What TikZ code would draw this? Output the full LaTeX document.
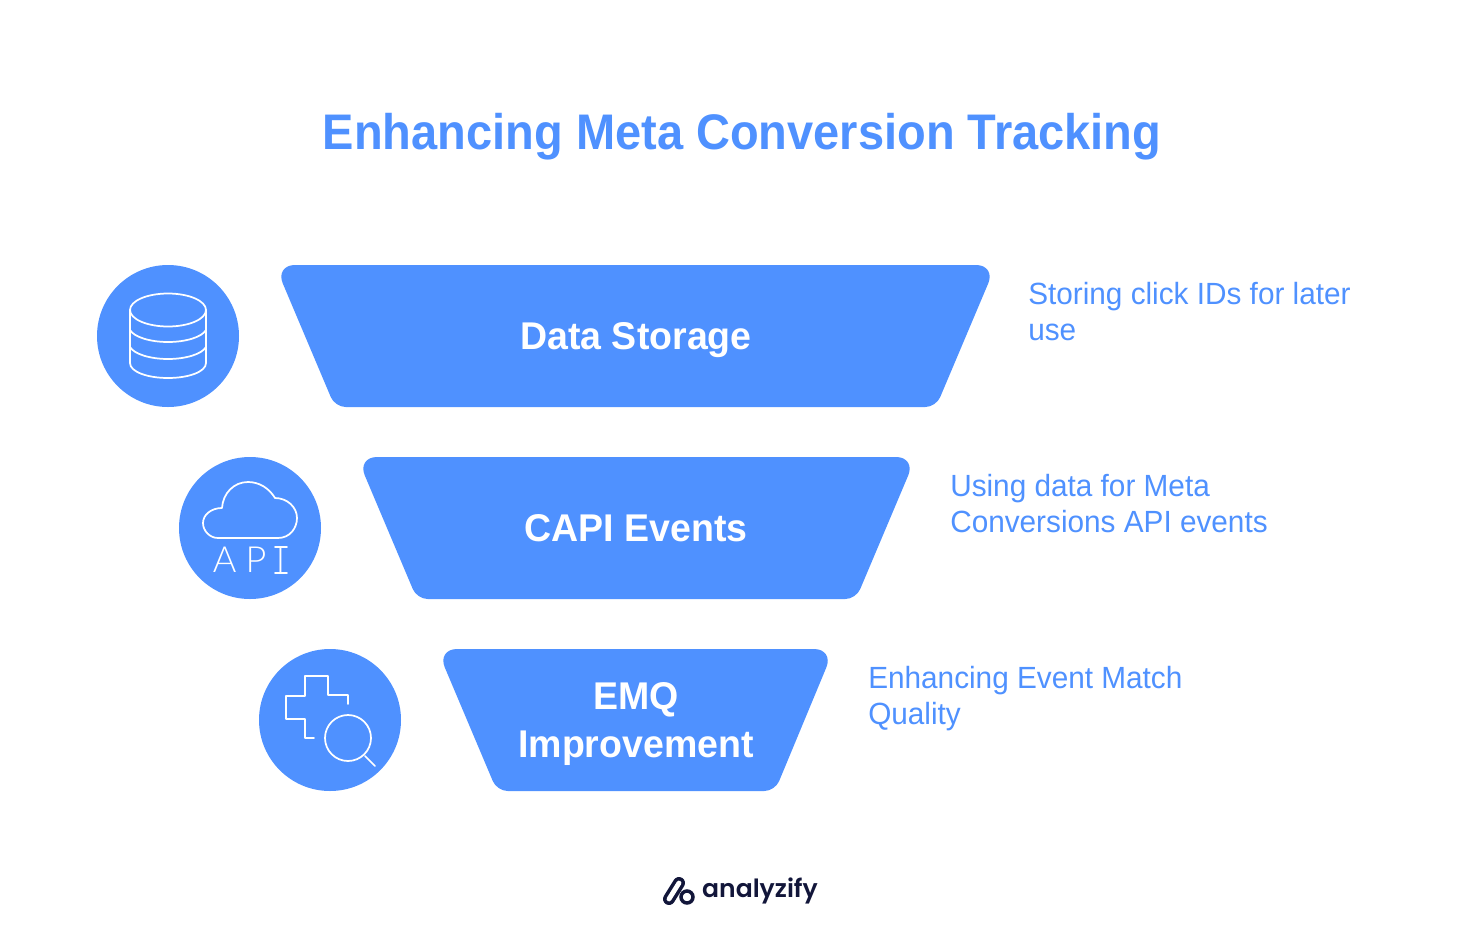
\documentclass[tikz,border=0pt]{standalone}
\usepackage{fontspec}
\setmainfont{Liberation Sans}[FakeStretch=0.97]
\newfontfamily\titlefont{Liberation Sans}[FakeStretch=0.94]
\newfontfamily\logofont{Poppins SemiBold}
\newfontfamily\apifont{Lato Light}
\usepackage{tikz}
\usetikzlibrary{calc,positioning}
\definecolor{funnelblue}{HTML}{4F91FF}
\definecolor{logoink}{HTML}{12163A}

\begin{document}
\begin{tikzpicture}[x=0.75pt,y=-0.75pt]
      \tikzstyle{tnode} = [inner sep = 0pt, text=funnelblue, font=\titlefont\fontsize{37.5}{45}\selectfont\bfseries]
      \tikzstyle{lnode} = [inner sep = 0pt, text=white, align=center, font=\fontsize{29}{36}\selectfont\bfseries]
      \tikzstyle{dnode} = [inner sep = 0pt, text=funnelblue, align=left, anchor=west, font=\fontsize{23}{27}\selectfont]
      \tikzstyle{cnode} = [circle, fill=funnelblue, inner sep = 0pt, minimum size = 106.5pt]
      \tikzstyle{icon} = [draw=white, line width = 1.3pt, line join=round, line cap=round]

      \useasboundingbox (0,0) rectangle (1482,936);

      \node[tnode] (title) at (742,137) {Enhancing Meta Conversion Tracking};

      \node[cnode] (c1) at (168,336) {};
      \node[cnode] (c2) at (250,528) {};
      \node[cnode] (c3) at (330,720) {};

      \fill[funnelblue] (635,265) [rounded corners = 15pt] -- (996,265) [rounded corners = 8pt] -- (936,407) -- (335,407) [rounded corners = 15pt] -- (275,265) [sharp corners] -- cycle;
      \fill[funnelblue] (636,457) [rounded corners = 15pt] -- (916,457) [rounded corners = 8pt] -- (856,599) -- (417,599) [rounded corners = 15pt] -- (357,457) [sharp corners] -- cycle;
      \fill[funnelblue] (636,649) [rounded corners = 15pt] -- (834,649) [rounded corners = 8pt] -- (775,791) -- (497,791) [rounded corners = 15pt] -- (437,649) [sharp corners] -- cycle;

      \node[lnode] (l1) at (636,340) {Data Storage};
      \node[lnode] (l2) at (636,528) {CAPI Events};
      \node[lnode] (l3) at (636,724) {EMQ\\Improvement};

      \node[dnode] (d1) at (1028,312) {Storing click IDs for later\\use};
      \node[dnode] (d2) at (950,504) {Using data for Meta\\Conversions API events};
      \node[dnode] (d3) at (868,699) {Enhancing Event Match\\Quality};

      % database
      \draw[icon] (168,310) ellipse (38 and 16.5);
      \draw[icon] (130,310) -- (130,363) .. controls (130,372) and (148,378) .. (168,378) .. controls (188,378) and (206,372) .. (206,363) -- (206,310);
      \draw[icon] (130,330) .. controls (134,337) and (150,342) .. (168,342) .. controls (186,342) and (202,337) .. (206,330);
      \draw[icon] (130,347) .. controls (134,354) and (150,359) .. (168,359) .. controls (186,359) and (202,354) .. (206,347);

      % cloud
      \draw[icon] (218,538) -- (278,538) .. controls (290,538) and (297,528) .. (297,518) .. controls (297,507) and (287,498) .. (275,498) .. controls (269,488) and (259,482) .. (248,482) .. controls (234,482) and (223,493) .. (222,508) .. controls (211,508) and (203,515) .. (203,523) .. controls (203,531) and (210,538) .. (218,538) -- cycle;
      \node[inner sep = 0pt, text=white, font=\apifont\fontsize{27}{28}\selectfont] (api) at (249,560) {A\hspace{7pt}P\hspace{7pt}I};
      \draw[icon] (275,547) -- (287,547);
      \draw[icon] (275,573) -- (287,573);

      % plus and lens
      \draw[icon] (314,738) -- (305,738) -- (305,719) -- (286,719) -- (286,696) -- (305,696) -- (305,676) -- (328,676) -- (328,695) -- (348,695) -- (348,704);
      \draw[icon] (348,738) circle (23);
      \draw[icon] (365,756) -- (375,766);

      % logo
      \draw[draw=logoink, line width = 9pt, line cap=round] (669,899) -- (679,883);
      \draw[draw=white, line width = 3.6pt, line cap=round] (669,899) -- (679,883);
      \draw[draw=logoink, line width = 2.6pt, fill=white] (687,897) circle (6);
      \node[inner sep = 0pt, text=logoink, font=\logofont\fontsize{18.8}{24}\selectfont] (logo) at (760,891) {analyzify};
\end{tikzpicture}
\end{document}
